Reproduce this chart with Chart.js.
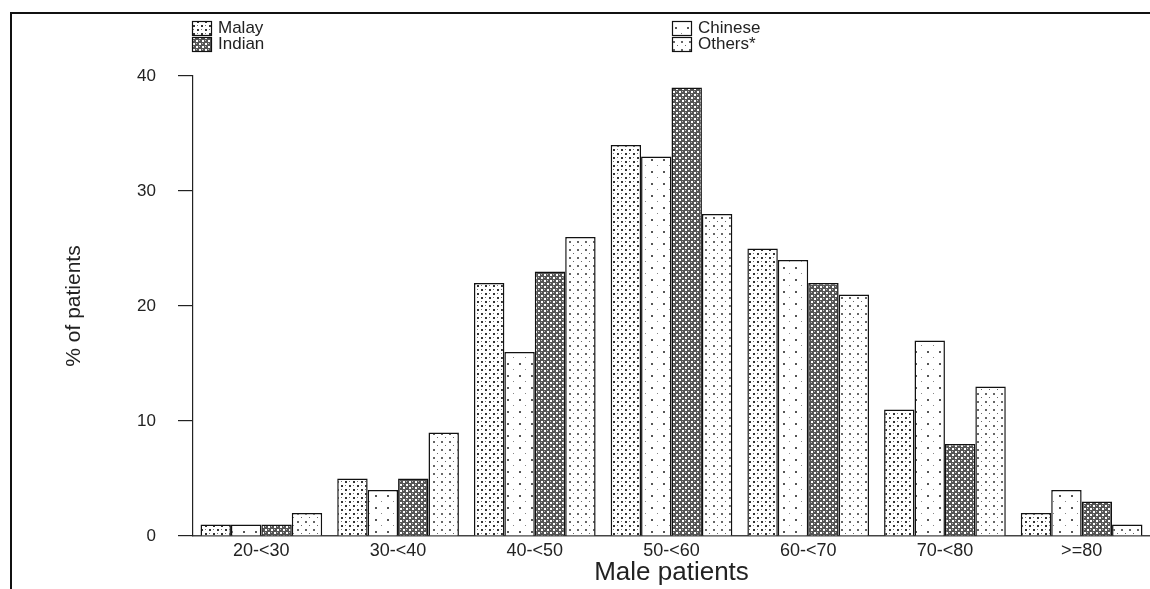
<!DOCTYPE html>
<html>
<head>
<meta charset="utf-8">
<script src="https://cdn.jsdelivr.net/npm/chart.js@4.4.0/dist/chart.umd.min.js"></script>
<style>
  html, body { margin: 0; padding: 0; background: #fff; }
  #wrap { width: 1150px; height: 589px; position: relative; }
</style>
</head>
<body>
<div id="wrap"><canvas id="chart"></canvas></div>
<script>
const ageGroups = ['20-<30', '30-<40', '40-<50', '50-<60', '60-<70', '70-<80', '>=80'];
const malay   = [1, 5, 22, 34, 25, 11, 2];
const chinese = [1, 4, 16, 33, 24, 17, 4];
const indian  = [1, 5, 23, 39, 22, 8, 3];
const others  = [2, 9, 26, 28, 21, 13, 1];
const yTicks  = [0, 10, 20, 30, 40];

const FONT = '"Liberation Sans", Arial, Helvetica, sans-serif';
const INK = '#222';

// small tiled fills that mimic the printed dot screens
function makePattern(size, bg, dots){
  const c = document.createElement('canvas');
  c.width = size; c.height = size;
  const g = c.getContext('2d');
  g.fillStyle = bg;
  g.fillRect(0, 0, size, size);
  dots.forEach(d => {
    g.fillStyle = d[3];
    g.fillRect(d[0], d[1], d[2], d[2]);
  });
  return g.createPattern(c, 'repeat');
}

const fillMalay   = makePattern(8, '#fff', [[1,1,2,'#333'], [5,5,2,'#333'], [5,1,1,'#777'], [1,5,1,'#777']]);
const fillChinese = makePattern(12, '#fff', [[3,3,2,'#555'], [9,9,1,'#888']]);
const fillIndian  = makePattern(6, '#555', [[1,1,2,'#fff'], [4,4,2,'#fff'], [1,4,1,'#bbb'], [4,1,1,'#bbb']]);
const fillOthers  = makePattern(8, '#fff', [[1,1,2,'#666'], [5,5,1,'#666']]);

const seriesNames = ['Malay', 'Chinese', 'Indian', 'Others*'];
const seriesFills = [fillMalay, fillChinese, fillIndian, fillOthers];

// outer frame lines and the two-column legend
const framePlugin = {
  id: 'frame',
  afterDraw(chart){
    const ctx = chart.ctx;
    ctx.save();
    ctx.strokeStyle = '#111';
    ctx.lineWidth = 2;
    ctx.beginPath();
    ctx.moveTo(11, 589);
    ctx.lineTo(11, 13);
    ctx.lineTo(1150, 13);
    ctx.stroke();

    const spots = [[192, 21], [672, 21], [192, 37], [672, 37]];
    ctx.font = '17px ' + FONT;
    ctx.textBaseline = 'middle';
    spots.forEach((p, i) => {
      ctx.fillStyle = seriesFills[i];
      ctx.fillRect(p[0], p[1], 19, 14);
      ctx.strokeStyle = '#111';
      ctx.lineWidth = 1.2;
      ctx.strokeRect(p[0] + 0.5, p[1] + 0.5, 19, 14);
      ctx.fillStyle = INK;
      ctx.fillText(seriesNames[i], p[0] + 26, p[1] + 7);
    });
    ctx.restore();
  }
};

const datasets = [malay, chinese, indian, others].map((vals, i) => ({
  label: seriesNames[i],
  data: vals,
  backgroundColor: seriesFills[i],
  borderColor: '#111',
  borderWidth: 1.5,
  categoryPercentage: 0.89,
  barPercentage: 1.0
}));

new Chart(document.getElementById('chart').getContext('2d'), {
  type: 'bar',
  data: { labels: ageGroups, datasets: datasets },
  options: {
    responsive: true,
    maintainAspectRatio: false,
    animation: false,
    layout: { padding: { top: 76, right: 0, bottom: 0, left: 0 } },
    plugins: { legend: { display: false }, tooltip: { enabled: false } },
    scales: {
      x: {
        grid: { display: false },
        border: { display: true, color: '#444', width: 1.5 },
        ticks: { color: INK, font: { family: FONT, size: 18 }, padding: -4, maxRotation: 0 },
        title: { display: true, text: 'Male patients', color: INK, font: { family: FONT, size: 26 }, padding: { top: 0, bottom: 1 } },
        afterFit(scale){ scale.height = 53; }
      },
      y: {
        min: 0,
        max: 40,
        afterBuildTicks(scale){ scale.ticks = yTicks.map(v => ({ value: v })); },
        grid: { drawOnChartArea: false, drawTicks: true, tickLength: 15, color: '#222', lineWidth: 1.2 },
        border: { display: true, color: '#222', width: 1.2 },
        ticks: { color: INK, font: { family: FONT, size: 17 }, padding: 22 },
        title: { display: true, text: '% of patients', color: INK, font: { family: FONT, size: 21 }, padding: { top: 62, bottom: 0 } },
        afterFit(scale){ scale.width = 193; }
      }
    }
  },
  plugins: [framePlugin]
});
</script>
</body>
</html>
